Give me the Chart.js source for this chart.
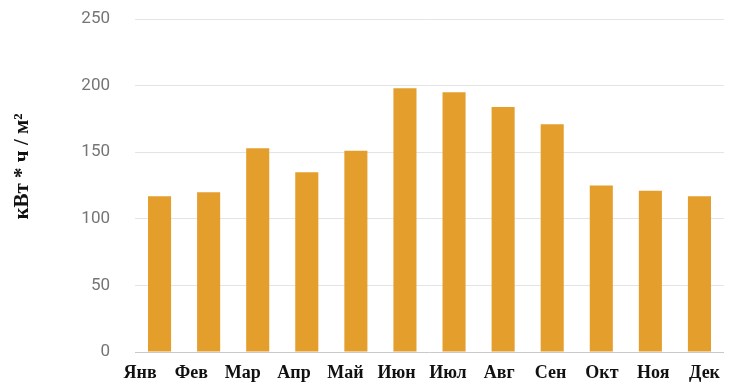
<!DOCTYPE html>
<html>
<head>
<meta charset="utf-8">
<script src="https://cdn.jsdelivr.net/npm/chart.js@4/dist/chart.umd.min.js"></script>
<style>
  html, body { margin: 0; padding: 0; background: #ffffff; }
  #wrap { width: 739px; height: 385px; position: relative; }
</style>
</head>
<body>
<div id="wrap"><canvas id="chart"></canvas></div>
<script>
// Monthly solar irradiation
const months = ['Янв', 'Фев', 'Мар', 'Апр', 'Май', 'Июн', 'Июл', 'Авг', 'Сен', 'Окт', 'Ноя', 'Дек'];
const irradiation = [117, 120, 153, 135, 151, 198, 195, 184, 171, 125, 121, 117];
const yTicks = [0, 50, 100, 150, 200, 250];
const yTitle = 'кВт * ч / м²';

// Rotated axis title, placed a little above the plot's middle
const yTitlePlugin = {
  id: 'yTitle',
  afterDraw(chart) {
    const { ctx, chartArea } = chart;
    ctx.save();
    ctx.translate(23, (chartArea.top + chartArea.bottom) / 2 - 19);
    ctx.rotate(-Math.PI / 2);
    ctx.font = 'bold 21px "Liberation Serif", "Times New Roman", serif';
    ctx.fillStyle = '#111111';
    ctx.textAlign = 'center';
    ctx.textBaseline = 'middle';
    ctx.fillText(yTitle, 0, 0);
    ctx.restore();
  }
};

new Chart(document.getElementById('chart'), {
  type: 'bar',
  data: {
    labels: months,
    datasets: [{
      data: irradiation,
      backgroundColor: '#E49E2C',
      borderWidth: 0,
      categoryPercentage: 1,
      barPercentage: 0.47
    }]
  },
  options: {
    responsive: true,
    maintainAspectRatio: false,
    animation: false,
    devicePixelRatio: 1,
    layout: { padding: { left: 79, right: 15, top: 19, bottom: 0 } },
    plugins: {
      legend: { display: false },
      tooltip: { enabled: false }
    },
    scales: {
      // category axis carrying the bars (drawn without labels)
      x: {
        display: false
      },
      // month names, spread slightly wider than the bar slots
      xl: {
        type: 'linear',
        position: 'bottom',
        offset: false,
        beginAtZero: false,
        min: -0.1,
        max: 11.38,
        afterBuildTicks(scale) {
          scale.ticks = months.map((m, i) => ({ value: i }));
        },
        grid: { display: false, drawTicks: false, offset: false },
        border: { display: false },
        ticks: {
          color: '#111111',
          font: { family: '"Liberation Serif", "Times New Roman", serif', size: 18, weight: 'bold' },
          padding: 11,
          maxRotation: 0,
          autoSkip: false,
          callback: v => months[v]
        },
        afterFit(scale) {
          scale.height = 33;
          scale.paddingLeft = 0;
          scale.paddingRight = 0;
        }
      },
      y: {
        min: 0,
        max: 250,
        afterBuildTicks(scale) {
          scale.ticks = yTicks.map(v => ({ value: v }));
        },
        afterFit(scale) {
          scale.width = 56;
          scale.paddingTop = 10;
          scale.paddingBottom = 10;
        },
        grid: {
          drawTicks: false,
          lineWidth: 1,
          color: c => (c.tick && c.tick.value === 0) ? '#c9c9c9' : '#e4e4e4'
        },
        border: { display: false },
        ticks: {
          color: '#757575',
          font: { family: 'Roboto, "Liberation Sans", Arial, sans-serif', size: 17 },
          padding: 25
        }
      }
    }
  },
  plugins: [yTitlePlugin]
});
</script>
</body>
</html>
